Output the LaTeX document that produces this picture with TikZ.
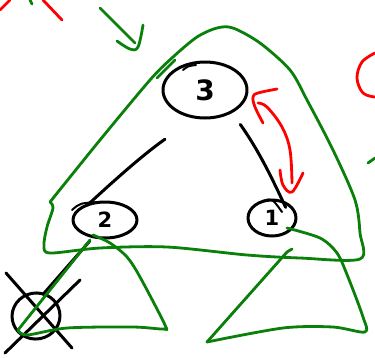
\documentclass[tikz,border=0pt]{standalone}
\usepackage{fontspec}
\setsansfont{DejaVu Sans}
\usetikzlibrary{shapes.geometric}
\definecolor{pgreen}{RGB}{10,128,10}
\definecolor{pred}{RGB}{255,0,0}
\begin{document}
\begin{tikzpicture}[x=1pt,y=-1pt,line cap=round,line join=round,
  pen/.style={line width=3pt,black},
  gpen/.style={line width=2.8pt,pgreen},
  rpen/.style={line width=2.8pt,pred},
  treenode/.style={ellipse,draw,line width=3pt,inner sep=0pt},
]
\useasboundingbox (0,0) rectangle (375,357);
\fill[white] (0,0) rectangle (375,357);

% nodes
\node[treenode,minimum width=84pt,minimum height=56pt,font=\sffamily\bfseries\fontsize{28}{28}\selectfont] (n3) at (205,90) {3};
\node[treenode,minimum width=64pt,minimum height=36pt,font=\sffamily\bfseries\fontsize{21}{21}\selectfont] (n2) at (105,220) {2};
\node[treenode,minimum width=48pt,minimum height=36pt,font=\sffamily\bfseries\fontsize{21}{21}\selectfont] (n1) at (272,218) {1};
\node[treenode,minimum width=48pt,minimum height=46pt,rotate=10] (n0) at (36,316) {};

% edges
\draw[pen,shorten <=36pt,shorten >=-4pt] (n3.250) to[bend right=4] (n2.130);
\draw[pen,shorten <=14pt,shorten >=-8pt] (n3.-40) to[bend left=5] (n1.60);
\draw[pen,shorten <=4pt,shorten >=-2pt] (n2.235) -- (n0.60);

% cross over deleted node
\draw[pen] (80,280) -- (5,353);
\draw[pen] (6,273) -- (72,348);

% small hooks on nodes
\draw[pen,line width=2pt] (72,210) .. controls (80,203) .. (100,202);
\draw[pen,line width=2pt] (263,201) .. controls (272,198) .. (282,212);
\draw[pen,line width=2pt] (183,70) .. controls (188,66) .. (196,65);

% big green triangle
\draw[gpen] plot[smooth,tension=0.5] coordinates {
 (50,202) (53,208) (47,227) (44,245) (50,253) (100,248) (167,247) (247,255) (300,258) (360,259)
 (360,233) (355,200) (333,150) (307,100) (290,70) (260,43) (233,28) (217,28) (197,37) (173,57)
 (150,80) (100,140) (50,202)};
\draw[gpen] (157,78) -- (175,60);

% lower-left green triangle
\draw[gpen] plot[smooth,tension=0.5] coordinates {
 (93,235) (110,243) (127,257) (140,277) (165,325) (163,329) (133,327) (67,328) (27,335) (18,330)};
\draw[gpen] (18,330) -- (90,240);

% lower-right green triangle
\draw[gpen] plot[smooth,tension=0.5] coordinates {
 (287,228) (320,238) (337,253) (348,277) (363,317) (365,332) (333,327) (283,328) (207,342)};
\draw[gpen] (207,342) -- (287,252) -- (292,249);

% red double arrow
\draw[rpen] plot[smooth,tension=0.6] coordinates {(258,103) (267,107) (282,127) (290,150) (292,183)};
\draw[rpen] plot[smooth,tension=0.6] coordinates {(263,123) (255,107) (253,97) (258,93) (277,89)};
\draw[rpen] plot[smooth,tension=0.6] coordinates {(280,170) (283,185) (292,192) (303,173)};

% green arrow top
\draw[gpen] (100,8) -- (135,43);
\draw[gpen] plot[smooth,tension=0.6] coordinates {(117,41) (130,49) (138,47) (143,25)};

% fragments at edges
\draw[rpen] (0,10) -- (10,0);
\draw[rpen] (43,0) -- (62,20);
\draw[gpen] (30,0) -- (32,4);
\draw[rpen] plot[smooth,tension=0.6] coordinates {(375,53) (362,62) (357,78) (363,93) (375,97)};
\draw[gpen] (368,163) -- (375,158);
\end{tikzpicture}
\end{document}
